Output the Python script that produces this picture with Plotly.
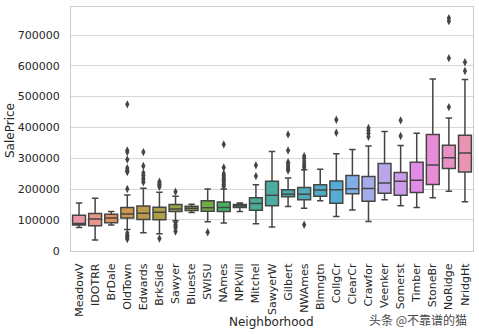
import math
import colorsys
import plotly.graph_objects as go

# ---------------- data ----------------
neighborhoods = ["MeadowV", "IDOTRR", "BrDale", "OldTown", "Edwards", "BrkSide", "Sawyer",
                 "Blueste", "SWISU", "NAmes", "NPkVill", "Mitchel", "SawyerW", "Gilbert",
                 "NWAmes", "Blmngtn", "CollgCr", "ClearCr", "Crawfor", "Veenker", "Somerst",
                 "Timber", "StoneBr", "NoRidge", "NridgHt"]
lower_whisker = [75000, 34900, 83000, 68400, 58500, 55000, 97000, 124000, 94000, 90000,
                 127500, 87000, 77000, 143000, 138000, 162000, 111000, 132000, 94500,
                 165000, 146000, 140000, 172000, 193000, 159000]
q1 = [83500, 81000, 91000, 105900, 101500, 100500, 127250, 130750, 128000, 127500,
      140000, 131000, 146000, 175000, 165150, 177000, 154000, 185000, 160000, 186000,
      180000, 189000, 215000, 267000, 255000]
median = [88000, 103000, 106000, 119000, 121750, 124300, 135000, 137500, 139500, 140000,
          146000, 153500, 180000, 183000, 183000, 197000, 198000, 201000, 202000, 220000,
          225500, 228475, 278000, 302000, 317000]
q3 = [115000, 120500, 118000, 140000, 145225, 141175, 149462, 144250, 162000, 158000,
      150000, 172000, 225000, 198000, 205000, 214000, 226000, 244000, 241000, 283000,
      254000, 287000, 377426, 342000, 375000]
upper_whisker = [155000, 170000, 127000, 181000, 203000, 190000, 177000, 151000, 200000,
                 200000, 155000, 214000, 322000, 236000, 263000, 264561, 315000, 328000,
                 340000, 387000, 341000, 381000, 557000, 431000, 556000]
outliers = {
    "OldTown": [475000, 325000, 320000, 296000, 268000, 262000, 258000, 255000, 200000,
                57000, 50000, 45000, 40000, 37900],
    "Edwards": [320000, 275000, 252000, 244000, 236000, 229000, 222000],
    "BrkSide": [224000, 220000, 215000, 211000, 207000, 39300],
    "Sawyer": [191000, 92000, 85000, 79000, 73000, 62383],
    "SWISU": [60000],
    "NAmes": [345000, 270000, 250000, 243000, 237000, 232000, 227000, 221000, 215000, 209000],
    "Mitchel": [277000, 242000],
    "Gilbert": [377500, 325000, 287000, 279000, 272000, 266000, 260000],
    "NWAmes": [307000, 299800, 290000, 281000, 275000, 269000, 84000],
    "CollgCr": [424870, 383000],
    "Crawfor": [398000, 390000, 381000, 370000],
    "Somerst": [423000, 372000],
    "NoRidge": [755000, 745000, 625000, 466000],
    "NridgHt": [611657, 583000],
}
y_tick_values = [0, 100000, 200000, 300000, 400000, 500000, 600000, 700000]
y_tick_labels = ["0", "100000", "200000", "300000", "400000", "500000", "600000", "700000"]

# ---------------- seaborn-like husl palette ----------------
_M = [[3.2406, -1.5372, -0.4986], [-0.9689, 1.8758, 0.0415], [0.0557, -0.2040, 1.0570]]
_refU, _refV, _lab_e, _lab_k = 0.19784, 0.46834, 0.008856, 903.3


def _max_chroma(L, H):
    hrad = math.radians(H)
    sinH, cosH = math.sin(hrad), math.cos(hrad)
    sub1 = (L + 16) ** 3 / 1560896.0
    sub2 = sub1 if sub1 > _lab_e else L / _lab_k
    result = float("inf")
    for m1, m2, m3 in _M:
        top = (0.99915 * m1 + 1.05122 * m2 + 1.14460 * m3) * sub2
        rbottom = 0.86330 * m3 - 0.17266 * m2
        lbottom = 0.12949 * m3 - 0.38848 * m1
        bottom = (rbottom * sinH + lbottom * cosH) * sub2
        for t in (0.0, 1.0):
            C = L * (top - 1.05122 * t) / (bottom + 0.17266 * sinH * t)
            if 0 < C < result:
                result = C
    return result


def _husl_to_rgb(h, s, l):
    C = _max_chroma(l, h) / 100.0 * s
    hrad = math.radians(h)
    U, V = math.cos(hrad) * C, math.sin(hrad) * C
    t = (l + 16) / 116.0
    varY = t ** 3 if t ** 3 > _lab_e else (116 * t - 16) / _lab_k
    varU = U / (13 * l) + _refU
    varV = V / (13 * l) + _refV
    Y = varY
    X = 0 - (9 * Y * varU) / ((varU - 4) * varV - varU * varV)
    Z = (9 * Y - 15 * varV * Y - varV * X) / (3 * varV)
    out = []
    for row in _M:
        c = row[0] * X + row[1] * Y + row[2] * Z
        c = 12.92 * c if c <= 0.0031308 else 1.055 * c ** (1 / 2.4) - 0.055
        out.append(min(max(c, 0.0), 1.0))
    return out


n = len(neighborhoods)
colors_rgb = []
for i in range(n):
    hue = ((i / n + 0.01) % 1) * 359
    r, g, b = _husl_to_rgb(hue, 0.9 * 99, 0.7 * 99)
    hh, ll, ss = colorsys.rgb_to_hls(r, g, b)
    colors_rgb.append(colorsys.hls_to_rgb(hh, ll, ss * 0.75))
lum = min(colorsys.rgb_to_hls(*c)[1] for c in colors_rgb) * 0.6
gray = "rgb({0},{0},{0})".format(int(round(lum * 255)))
fills = ["rgb({},{},{})".format(*[int(round(v * 255)) for v in c]) for c in colors_rgb]

# ---------------- figure ----------------
fig = go.Figure()
for i, name in enumerate(neighborhoods):
    fig.add_trace(go.Box(
        x=[name], q1=[q1[i]], median=[median[i]], q3=[q3[i]],
        lowerfence=[lower_whisker[i]], upperfence=[upper_whisker[i]],
        fillcolor=fills[i], line=dict(color=gray, width=1.5),
        width=0.8, whiskerwidth=0.5, boxpoints=False, showlegend=False,
    ))

fx, fy = [], []
for name in neighborhoods:
    for v in outliers.get(name, []):
        fx.append(name)
        fy.append(v)
fig.add_trace(go.Scatter(
    x=fx, y=fy, mode="markers", showlegend=False,
    marker=dict(symbol="diamond-tall", size=6, color=gray, line=dict(width=0)),
))

font_family = "DejaVu Sans"
text_color = "#262626"
fig.update_layout(
    width=479, height=334,
    margin=dict(l=71, r=6, t=7, b=83),
    paper_bgcolor="white", plot_bgcolor="white",
    font=dict(family=font_family, size=11, color=text_color),
    boxmode="overlay",
    showlegend=False,
)
fig.update_xaxes(
    type="category", categoryorder="array", categoryarray=neighborhoods,
    range=[-0.5, n - 0.5], tickangle=-90,
    showline=True, mirror=True, linecolor="#cccccc", linewidth=1.2,
    showgrid=False, ticks="outside", ticklen=7, tickcolor="rgba(0,0,0,0)",
    tickfont=dict(size=11, color=text_color),
)
fig.update_yaxes(
    range=[-1105, 791005], tickmode="array", tickvals=y_tick_values, ticktext=y_tick_labels,
    showline=True, mirror=True, linecolor="#cccccc", linewidth=1.2,
    showgrid=True, gridcolor="#d6d6d6", gridwidth=1, zeroline=False,
    ticks="outside", ticklen=8, tickcolor="rgba(0,0,0,0)",
    tickfont=dict(size=11, color=text_color),
)

fig.add_annotation(text="Neighborhood", xref="paper", yref="paper",
                   x=(271 - 71) / 402, y=(251 - 322) / 244, xanchor="center", yanchor="middle",
                   showarrow=False, font=dict(size=12, color=text_color, family=font_family))
fig.add_annotation(text="SalePrice", xref="paper", yref="paper", textangle=-90,
                   x=(10 - 71) / 402, y=(251 - 131) / 244, xanchor="center", yanchor="middle",
                   showarrow=False, font=dict(size=12, color=text_color, family=font_family))
fig.add_annotation(text="头条 @不靠谱的猫", xref="paper", yref="paper",
                   x=(469 - 71) / 402, y=(251 - 319) / 244, xanchor="right", yanchor="middle",
                   showarrow=False, font=dict(size=12, color="#4a4a4a", family="Noto Sans CJK SC"))

fig.write_html("out.html")
